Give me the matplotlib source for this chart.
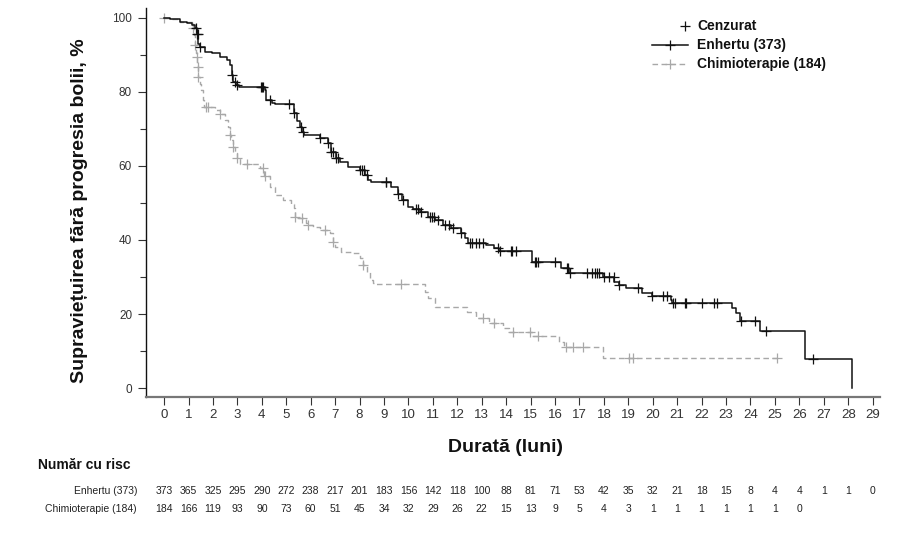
import numpy as np
import matplotlib
matplotlib.use("Agg")
import matplotlib.pyplot as plt
from matplotlib.lines import Line2D
from matplotlib.transforms import blended_transform_factory

plt.rcParams['font.family'] = ['Liberation Sans', 'DejaVu Sans']

# ---------------- data ----------------
months = list(range(0, 30))

enh_t = [0, 0.24, 0.65, 0.93, 1.13, 1.27, 1.33, 1.40, 1.47, 1.67, 1.95, 2.29, 2.56, 2.70, 2.76, 2.83,
         2.94, 3.05, 4.13, 4.19, 4.40, 4.55, 5.30, 5.45, 5.55, 5.65, 5.72, 6.37, 6.71, 6.85, 7.05, 7.19,
         7.53, 8.00, 8.22, 8.36, 8.45, 9.30, 9.57, 9.75, 9.98, 10.17, 10.46, 10.80, 11.10, 11.40, 11.75,
         12.16, 12.30, 12.43, 13.18, 13.52, 13.70, 15.05, 16.24, 16.58, 17.95, 18.42, 18.60, 18.90,
         19.55, 19.96, 20.74, 20.80, 23.25, 23.40, 23.57, 24.39, 26.24, 28.16]
enh_s = [100, 99.5, 98.9, 98.5, 98.0, 97.1, 95.7, 93.0, 92.1, 90.8, 90.4, 89.5, 88.6, 87.2, 84.5, 82.7,
         81.8, 81.2, 80.5, 77.8, 77.0, 76.7, 74.2, 72.0, 70.5, 69.0, 68.4, 67.4, 66.1, 63.8, 62.0, 61.1,
         59.7, 59.0, 57.5, 56.2, 55.5, 54.4, 52.5, 50.7, 48.9, 48.3, 47.6, 46.2, 45.4, 44.0, 43.1,
         41.8, 40.4, 39.3, 38.6, 37.7, 37.1, 34.1, 32.3, 31.1, 29.9, 28.7, 27.8, 26.9,
         25.8, 24.9, 23.8, 23.1, 21.7, 20.2, 18.2, 15.5, 7.8, 0]
enh_cens = [1.30, 1.35, 1.38, 1.47, 2.76, 2.90, 3.00, 3.95, 4.00, 4.03, 4.35, 5.12, 5.32, 5.62, 5.70,
            6.40, 6.71, 6.85, 6.92, 7.05, 7.12, 8.00, 8.10, 8.20, 8.30, 9.07, 9.10, 9.57, 9.78,
            10.32, 10.40, 10.53, 10.87, 10.95, 11.05, 11.20, 11.48, 11.68, 11.82, 12.16, 12.50, 12.62,
            12.75, 12.90, 13.05, 13.65, 13.73, 14.20, 14.25, 14.40, 15.16, 15.22, 15.30, 15.98,
            16.50, 16.55, 16.60, 17.30, 17.50, 17.62, 17.72, 17.80, 18.00, 18.20, 18.40, 18.60, 19.40,
            19.96, 20.40, 20.60, 20.82, 20.90, 21.30, 21.38, 22.03, 22.51, 22.62, 23.60, 24.20,
            24.64, 26.54]

chemo_t = [0, 0.24, 0.65, 1.13, 1.20, 1.22, 1.25, 1.30, 1.33, 1.36, 1.37, 1.40, 1.45, 1.51, 1.58, 1.65,
           2.08, 2.30, 2.50, 2.60, 2.70, 2.75, 2.83, 2.90, 2.98, 3.10, 3.92, 4.10, 4.33, 4.53, 4.87,
           5.20, 5.30, 5.35, 5.40, 5.80, 5.90, 6.10, 6.37, 6.78, 6.90, 7.00, 7.26, 7.73, 8.00, 8.14,
           8.30, 8.41, 8.55, 8.60, 10.66, 10.80, 11.07, 12.40, 12.77, 13.30, 13.86, 14.10, 15.05,
           16.15, 16.38, 17.95, 25.10]
chemo_s = [100, 99.5, 98.9, 98.0, 97.1, 95.3, 92.6, 90.5, 89.5, 87.5, 86.8, 84.1, 82.0, 80.5, 77.8, 76.0,
           75.1, 73.9, 72.4, 70.6, 68.3, 67.0, 65.2, 63.4, 62.0, 60.5, 59.5, 57.2, 54.3, 52.1, 50.8,
           49.8, 48.5, 46.2, 45.8, 44.5, 44.0, 43.5, 42.7, 41.8, 39.5, 38.2, 36.8, 36.4, 35.0, 33.2,
           31.4, 29.2, 28.3, 28.0, 26.0, 24.2, 21.9, 20.6, 18.8, 17.5, 16.1, 15.2, 14.0,
           12.5, 11.2, 8.0, 8.0]
chemo_cens = [0.0, 1.20, 1.25, 1.33, 1.37, 1.40, 1.72, 1.80, 2.30, 2.70, 2.83, 2.98, 3.38, 4.03, 4.15,
              5.35, 5.66, 5.90, 6.57, 6.92, 8.14, 9.71, 13.05, 13.52, 14.27, 14.99, 15.29, 16.45,
              16.72, 17.13, 19.04, 19.20, 25.10]

enh_risk = [373, 365, 325, 295, 290, 272, 238, 217, 201, 183, 156, 142, 118, 100, 88, 81, 71, 53,
            42, 35, 32, 21, 18, 15, 8, 4, 4, 1, 1, 0]
chemo_risk = [184, 166, 119, 93, 90, 73, 60, 51, 45, 34, 32, 29, 26, 22, 15, 13, 9, 5, 4, 3, 1, 1,
              1, 1, 1, 1, 0]

enh_label = "Enhertu (373)"
chemo_label = "Chimioterapie (184)"
cens_label = "Cenzurat"
ylabel = "Supraviețuirea fără progresia bolii, %"
xlabel = "Durată (luni)"
risk_title = "Număr cu risc"
risk_row_labels = ["Enhertu (373)", "Chimioterapie (184)"]

# ---------------- figure ----------------
W, H = 922, 534
fig = plt.figure(figsize=(W / 100, H / 100), dpi=100)
ax = fig.add_axes([146 / W, 1 - 397 / H, (880 - 146) / W, (397 - 8) / H])

BLACK = '#111111'
GRAY = '#a8a8a8'


def step_val(ts, ss, x):
    i = np.searchsorted(np.asarray(ts), x, side='right') - 1
    return np.asarray(ss)[np.clip(i, 0, len(ss) - 1)]


# chemo (behind)
ax.step(chemo_t, chemo_s, where='post', color=GRAY, lw=1.0, ls=(0, (4, 2.5)), zorder=2)
ax.plot(chemo_cens, step_val(chemo_t, chemo_s, chemo_cens), ls='none', marker='+',
        ms=6.5, mew=0.9, color=GRAY, zorder=2)
# enhertu
ax.step(enh_t, enh_s, where='post', color=BLACK, lw=1.1, zorder=3)
ax.plot(enh_cens, step_val(enh_t, enh_s, enh_cens), ls='none', marker='+',
        ms=6.5, mew=0.9, color=BLACK, zorder=3)

ax.set_xlim(-0.74, 29.3)
ax.set_ylim(-2.4, 102.6)

ax.set_xticks(months)
ax.set_xticklabels([str(m) for m in months], fontsize=9.5)
ax.set_yticks([0, 20, 40, 60, 80, 100])
ax.set_yticks([10, 30, 50, 70, 90], minor=True)
ax.tick_params(axis='y', which='major', direction='out', length=6, width=0.8,
               labelsize=8.5, pad=4, colors='#333333')
ax.tick_params(axis='y', which='minor', direction='out', length=4, width=0.8, color='#333333')
ax.tick_params(axis='x', which='major', direction='out', length=6, width=0.8,
               pad=3, colors='#333333')
for s in ['top', 'right']:
    ax.spines[s].set_visible(False)
ax.spines['left'].set_color('#111111')
ax.spines['left'].set_linewidth(1.0)
ax.spines['bottom'].set_color('#777777')
ax.spines['bottom'].set_linewidth(1.6)

# axis labels
fig.text(80 / W, 1 - 211 / H, ylabel, rotation=90, ha='center', va='center',
         fontsize=14, fontweight='bold', color='#111111')
fig.text(505 / W, 1 - 448 / H, xlabel, ha='center', va='center',
         fontsize=14, fontweight='bold', color='#111111')

# legend (manual)
def fx(px):
    return px / W


def fy(py):
    return 1 - py / H


fig.add_artist(Line2D([fx(685)], [fy(26)], marker='+', ms=6.5, mew=0.9, color=BLACK,
                      ls='none', transform=fig.transFigure))
fig.add_artist(Line2D([fx(652), fx(688)], [fy(45), fy(45)], color=BLACK, lw=1.1,
                      transform=fig.transFigure))
fig.add_artist(Line2D([fx(670)], [fy(45)], marker='+', ms=6.5, mew=0.9, color=BLACK,
                      ls='none', transform=fig.transFigure))
fig.add_artist(Line2D([fx(652), fx(688)], [fy(64), fy(64)], color=GRAY, lw=1.0,
                      ls=(0, (4, 2.5)), transform=fig.transFigure))
fig.add_artist(Line2D([fx(670)], [fy(64)], marker='+', ms=6.5, mew=0.9, color=GRAY,
                      ls='none', transform=fig.transFigure))
for py, lab in [(26, cens_label), (45, enh_label), (64, chemo_label)]:
    fig.text(fx(697), fy(py), lab, ha='left', va='center', fontsize=10,
             fontweight='bold', color='#111111')

# risk table
fig.text(fx(38), fy(465), risk_title, ha='left', va='center', fontsize=10,
         fontweight='bold', color='#111111')
trans = blended_transform_factory(ax.transData, fig.transFigure)
for py, lab, vals in [(491, risk_row_labels[0], enh_risk), (509, risk_row_labels[1], chemo_risk)]:
    fig.text(fx(137), fy(py), lab, ha='right', va='center', fontsize=7.5, color='#222222')
    for m, v in zip(months, vals):
        ax.text(m, fy(py), str(v), transform=trans, ha='center', va='center',
                fontsize=7.5, color='#222222', clip_on=False)

fig.savefig('out.png', dpi=100)
